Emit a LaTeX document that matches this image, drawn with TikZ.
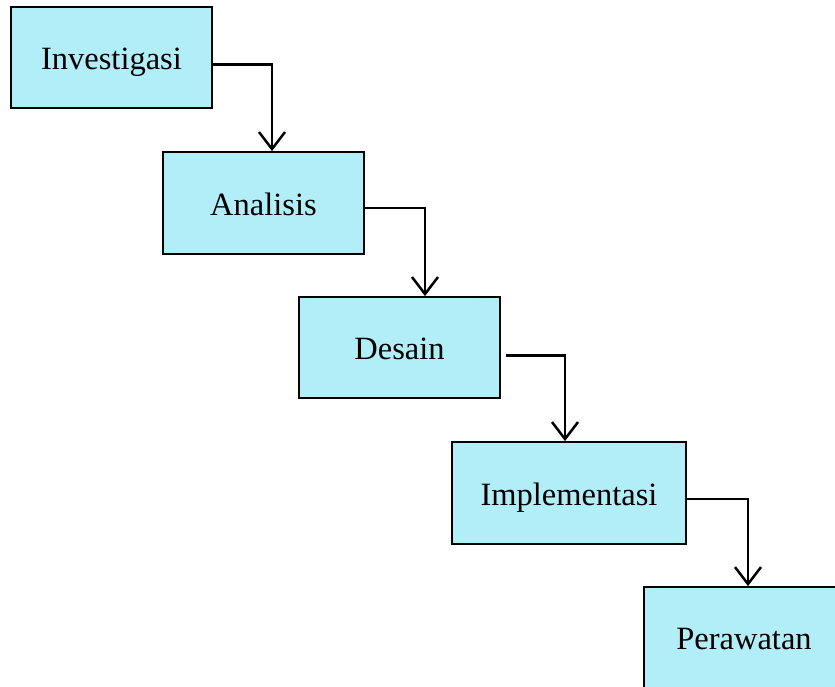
\documentclass[tikz,border=0pt]{standalone}
\usepackage{fontspec}
\setmainfont{Liberation Serif}
\usetikzlibrary{arrows.meta}
\definecolor{boxfill}{HTML}{B2EEF8}
% baseline of each label sits a fixed distance below the box centre
\newcommand{\stagelabel}[1]{\raisebox{-12pt}[0pt][0pt]{#1}}
\begin{document}
\begin{tikzpicture}[x=1pt,y=-1pt,
  stage/.style={draw=black, line width=1.8pt, fill=boxfill, minimum width=201pt,
    minimum height=101pt, inner sep=0pt, font=\fontsize{32.5}{36}\selectfont},
  flow/.style={draw=black, line width=2.5pt,
    -{Straight Barb[length=17pt,width=26pt,line width=2.5pt]}}]
\useasboundingbox (0,0) rectangle (835,686);
\clip (0,0) rectangle (835,686);

% process stages
\node[stage] (inv) at (111.5,57.5) {\stagelabel{Investigasi}};
\node[stage, minimum height=102pt] (ana) at (263.5,203) {\stagelabel{Analisis}};
\node[stage] (des) at (399.5,347.5) {\stagelabel{Desain}};
\node[stage, minimum width=234pt, minimum height=102pt] (imp) at (569,493) {\stagelabel{Implementasi}};
\node[stage, minimum width=200pt] (per) at (744,637.5) {\stagelabel{Perawatan}};

% stepped connectors
\draw[flow] ([yshift=-7pt]inv.east) -| ([xshift=8.5pt]ana.north);
\draw[flow] ([yshift=-5pt]ana.east) -| ([xshift=25.5pt]des.north);
\draw[flow] ([xshift=5pt,yshift=-8pt]des.east) -| ([xshift=-4pt]imp.north);
\draw[flow] ([yshift=-6pt]imp.east) -| ([xshift=4pt]per.north);
\end{tikzpicture}
\end{document}
